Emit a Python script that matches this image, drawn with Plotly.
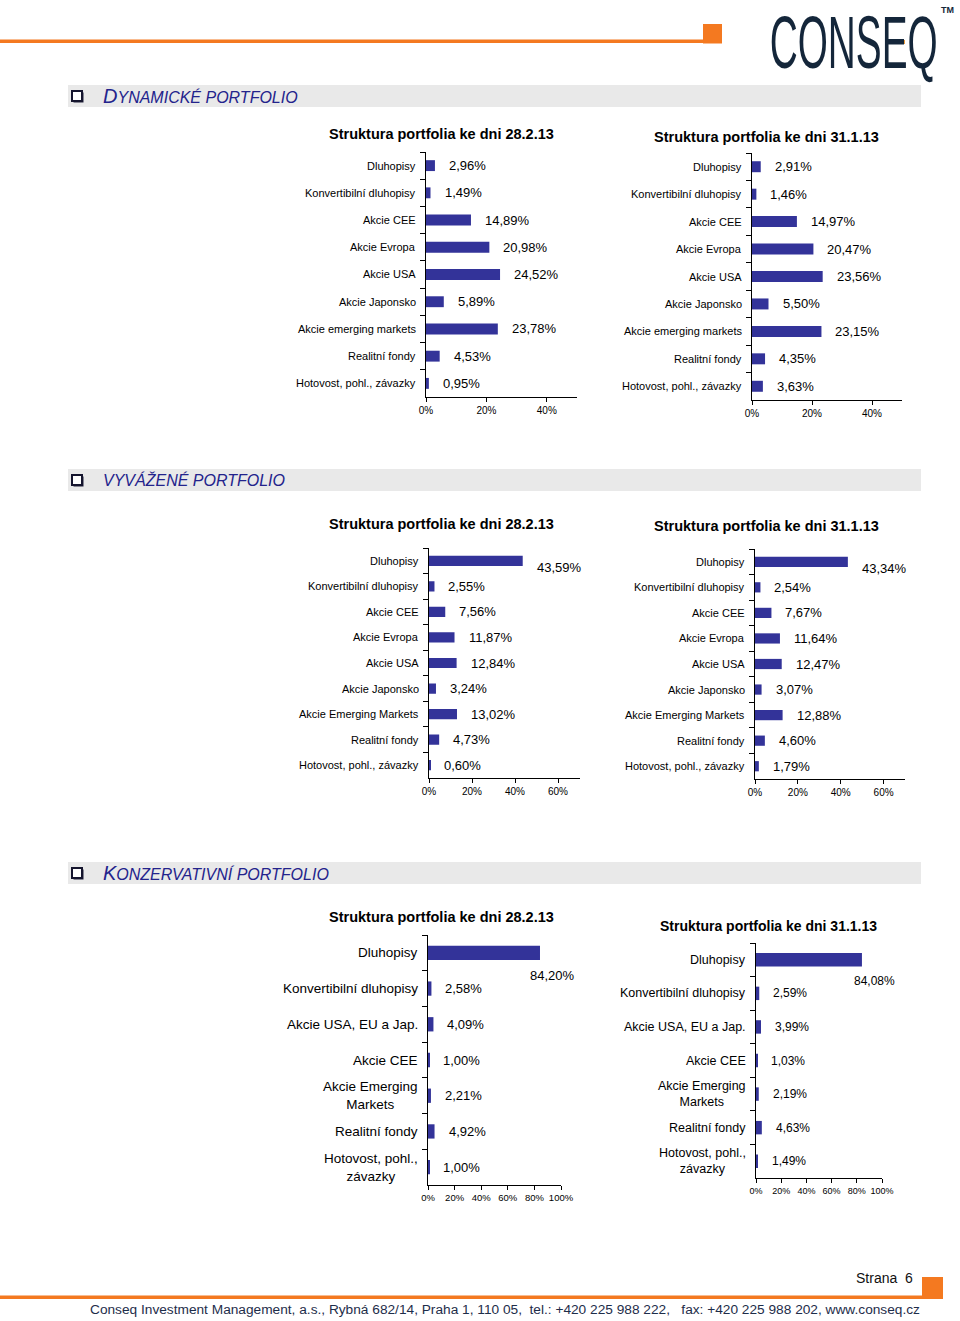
import plotly.graph_objects as go

W, H = 960, 1321

# ---------------- data ----------------
dyn_categories = ["Dluhopisy", "Konvertibilní dluhopisy", "Akcie CEE", "Akcie Evropa", "Akcie USA",
                  "Akcie Japonsko", "Akcie emerging markets", "Realitní fondy", "Hotovost, pohl., závazky"]
dyn_feb = [2.96, 1.49, 14.89, 20.98, 24.52, 5.89, 23.78, 4.53, 0.95]
dyn_jan = [2.91, 1.46, 14.97, 20.47, 23.56, 5.50, 23.15, 4.35, 3.63]

bal_categories = ["Dluhopisy", "Konvertibilní dluhopisy", "Akcie CEE", "Akcie Evropa", "Akcie USA",
                  "Akcie Japonsko", "Akcie Emerging Markets", "Realitní fondy", "Hotovost, pohl., závazky"]
bal_feb = [43.59, 2.55, 7.56, 11.87, 12.84, 3.24, 13.02, 4.73, 0.60]
bal_jan = [43.34, 2.54, 7.67, 11.64, 12.47, 3.07, 12.88, 4.60, 1.79]

kon_categories = ["Dluhopisy", "Konvertibilní dluhopisy", "Akcie USA, EU a Jap.", "Akcie CEE",
                  "Akcie Emerging<br>Markets", "Realitní fondy", "Hotovost, pohl.,<br>závazky"]
kon_feb = [84.20, 2.58, 4.09, 1.00, 2.21, 4.92, 1.00]
kon_jan = [84.08, 2.59, 3.99, 1.03, 2.19, 4.63, 1.49]

title_feb = "Struktura portfolia ke dni 28.2.13"
title_jan = "Struktura portfolia ke dni 31.1.13"
section_titles = ["DYNAMICKÉ PORTFOLIO", "VYVÁŽENÉ PORTFOLIO", "KONZERVATIVNÍ PORTFOLIO"]
footer_text = ("Conseq Investment Management, a.s., Rybná 682/14, Praha 1, 110 05,  tel.: +420 225 988 222,"
               "   fax: +420 225 988 202, www.conseq.cz")
page_text = "Strana  6"

# ---------------- styles / layout ----------------
BAR = "#333399"
ORANGE = "#F47920"
NAVY = "#23238C"
FONT = "Liberation Sans, Arial, sans-serif"


def fx(px):
    return px / W


def fy(py):
    return 1 - py / H


charts = [
    dict(cats=dyn_categories, vals=dyn_feb, title=title_feb, box=(426, 577, 152, 397), xmax=50,
         tick=[0, 20, 40], tpos=(441, 134), tsize=14.5, csize=11, vsize=13, big=None, tfs=10),
    dict(cats=dyn_categories, vals=dyn_jan, title=title_jan, box=(752, 902, 153, 400), xmax=50,
         tick=[0, 20, 40], tpos=(766, 137), tsize=14.5, csize=11, vsize=13, big=None, tfs=10),
    dict(cats=bal_categories, vals=bal_feb, title=title_feb, box=(429, 579.5, 548, 778), xmax=70,
         tick=[0, 20, 40, 60], tpos=(441, 524), tsize=14.5, csize=11, vsize=13, big=("left", 12, -7), tfs=10),
    dict(cats=bal_categories, vals=bal_jan, title=title_jan, box=(755, 905, 549, 779), xmax=70,
         tick=[0, 20, 40, 60], tpos=(766, 526), tsize=14.5, csize=11, vsize=13, big=("left", 12, -7), tfs=10),
    dict(cats=kon_categories, vals=kon_feb, title=title_feb, box=(428, 561, 935, 1185), xmax=100,
         tick=[0, 20, 40, 60, 80, 100], tpos=(441, 917), tsize=14.5, csize=13.5, vsize=13,
         big=("center", 13, -23), tfs=9.5),
    dict(cats=kon_categories, vals=kon_jan, title=title_jan, box=(756, 882, 943, 1178), xmax=100,
         tick=[0, 20, 40, 60, 80, 100], tpos=(768, 926), tsize=14, csize=12.5, vsize=12,
         big=("center", 13, -21), tfs=9),
]

fig = go.Figure()
annotations = []
shapes = []
layout_axes = {}

for i, c in enumerate(charts, start=1):
    xa = "x" if i == 1 else f"x{i}"
    ya = "y" if i == 1 else f"y{i}"
    x0, x1, y0, y1 = c["box"]
    n = len(c["cats"])
    fig.add_trace(go.Bar(
        x=c["vals"], y=c["cats"], orientation="h", marker=dict(color=BAR, line=dict(width=0)),
        width=0.4, xaxis=xa, yaxis=ya, showlegend=False, hoverinfo="skip"))
    layout_axes["xaxis" if i == 1 else f"xaxis{i}"] = dict(
        domain=[fx(x0), fx(x1)], range=[0, c["xmax"]], autorange=False, anchor=ya, showline=True,
        linecolor="#000", linewidth=1, ticks="outside", ticklen=4, tickcolor="#000",
        tickmode="array", tickvals=c["tick"], ticktext=[f"{t}%" for t in c["tick"]], tickangle=0,
        tickfont=dict(size=c["tfs"], color="#000"), showgrid=False, zeroline=False, fixedrange=True)
    layout_axes["yaxis" if i == 1 else f"yaxis{i}"] = dict(
        domain=[fy(y1), fy(y0)], type="category", categoryorder="array", categoryarray=c["cats"],
        range=[n - 0.5, -0.5], autorange=False, anchor=xa, showline=True, linecolor="#000",
        linewidth=1, ticks="outside", ticklen=5, tickcolor="#000", tickson="boundaries",
        showticklabels=False, showgrid=False, zeroline=False, fixedrange=True)
    # title
    annotations.append(dict(xref="paper", yref="paper", x=fx(c["tpos"][0]), y=fy(c["tpos"][1]),
                            text=f"<b>{c['title']}</b>", showarrow=False, xanchor="center",
                            yanchor="middle", font=dict(size=c["tsize"], color="#000")))
    # category labels
    for cat in c["cats"]:
        annotations.append(dict(xref=f"{xa} domain", yref=ya, x=0, y=cat, text=cat, showarrow=False,
                                xanchor="right", yanchor="middle", xshift=-8, align="center",
                                font=dict(size=c["csize"], color="#000")))
    # value labels
    for cat, v in zip(c["cats"], c["vals"]):
        txt = f"{v:.2f}%".replace(".", ",")
        anchor, dx, dy = "left", 12, 0
        if c["big"] is not None and v > 0.6 * c["xmax"]:
            anchor, dx, dy = c["big"]
        annotations.append(dict(xref=xa, yref=ya, x=v, y=cat, text=txt, showarrow=False,
                                xanchor=anchor, yanchor="middle", xshift=dx, yshift=dy,
                                font=dict(size=c["vsize"], color="#000")))

# ---------------- page decoration ----------------
# header orange line + square
shapes.append(dict(type="rect", xref="paper", yref="paper", x0=fx(0), x1=fx(712), y0=fy(43), y1=fy(39.5),
                   fillcolor=ORANGE, line=dict(width=0)))
shapes.append(dict(type="rect", xref="paper", yref="paper", x0=fx(703), x1=fx(722), y0=fy(43.5), y1=fy(24),
                   fillcolor=ORANGE, line=dict(width=0)))
# logo (right anchored; text box kept fully inside the page)
annotations.append(dict(xref="paper", yref="paper", x=fx(940), y=fy(42.5), text="CONSEQ", showarrow=False,
                        xanchor="right", yanchor="middle",
                        font=dict(size=74, color="#14263A", family="Liberation Sans, Arial")))
annotations.append(dict(xref="paper", yref="paper", x=fx(947), y=fy(10), text="<b>TM</b>", showarrow=False,
                        xanchor="center", yanchor="middle", font=dict(size=9, color="#14263A")))
shapes.append(dict(type="rect", xref="paper", yref="paper", x0=fx(889), x1=fx(905), y0=fy(44), y1=fy(40),
                   fillcolor="#F0A040", line=dict(width=0)))

# section bands
band_rows = [(85, 107), (469, 491), (862, 884)]
for (b0, b1), t in zip(band_rows, section_titles):
    shapes.append(dict(type="rect", xref="paper", yref="paper", x0=fx(68), x1=fx(921), y0=fy(b1), y1=fy(b0),
                       fillcolor="#E9E9E9", line=dict(width=0), layer="below"))
    cy = (b0 + b1) / 2 + 1
    shapes.append(dict(type="rect", xref="paper", yref="paper", x0=fx(73.5), x1=fx(83.5), y0=fy(cy + 5.5),
                       y1=fy(cy - 4.5), fillcolor="#20203A", line=dict(width=0)))
    shapes.append(dict(type="rect", xref="paper", yref="paper", x0=fx(72), x1=fx(82), y0=fy(cy + 4),
                       y1=fy(cy - 6), fillcolor="white", line=dict(width=2, color="#15152E")))
    if t.startswith("VYV"):
        txt = f"<i>{t}</i>"
    else:
        txt = f"<i><span style='font-size:20px'>{t[0]}</span>{t[1:]}</i>"
    annotations.append(dict(xref="paper", yref="paper", x=fx(101), y=fy(cy - 1), text=txt, showarrow=False,
                            xanchor="left", yanchor="middle", font=dict(size=16, color=NAVY)))

# footer
shapes.append(dict(type="rect", xref="paper", yref="paper", x0=fx(0), x1=fx(930), y0=fy(1299), y1=fy(1295.5),
                   fillcolor=ORANGE, line=dict(width=0)))
shapes.append(dict(type="rect", xref="paper", yref="paper", x0=fx(922), x1=fx(943), y0=fy(1299), y1=fy(1277),
                   fillcolor=ORANGE, line=dict(width=0)))
annotations.append(dict(xref="paper", yref="paper", x=fx(915), y=fy(1278), text=page_text, showarrow=False,
                        xanchor="right", yanchor="middle",
                        font=dict(size=14, color="#111", family="Liberation Sans Narrow, Arial Narrow, Liberation Sans")))
annotations.append(dict(xref="paper", yref="paper", x=fx(922), y=fy(1309), text=footer_text, showarrow=False,
                        xanchor="right", yanchor="middle",
                        font=dict(size=13.7, color="#1E2D4A",
                                  family="Liberation Sans Narrow, Arial Narrow, Liberation Sans")))

fig.update_layout(width=W, height=H, margin=dict(l=0, r=0, t=0, b=0, autoexpand=False),
                  paper_bgcolor="white", plot_bgcolor="white", font=dict(family=FONT, color="#000"),
                  showlegend=False, annotations=annotations, shapes=shapes, bargap=0.6, **layout_axes)

post = """
document.documentElement.style.margin = '0';
document.body.style.margin = '0';
document.body.style.padding = '0';
document.body.style.overflow = 'hidden';
function squeezeLogo(){
  document.querySelectorAll('text.annotation-text').forEach(function(el){
    if (el.textContent === 'CONSEQ') {
      el.style.transformBox = 'fill-box';
      el.style.transformOrigin = '100% 50%';
      el.style.transform = 'scaleX(0.524)';
    }
  });
}
squeezeLogo();
setTimeout(squeezeLogo, 30);
var gdl = document.getElementById('{plot_id}');
if (gdl && gdl.on) { gdl.on('plotly_afterplot', squeezeLogo); }
"""
fig.write_html("out.html", post_script=post, config=dict(displayModeBar=False))
